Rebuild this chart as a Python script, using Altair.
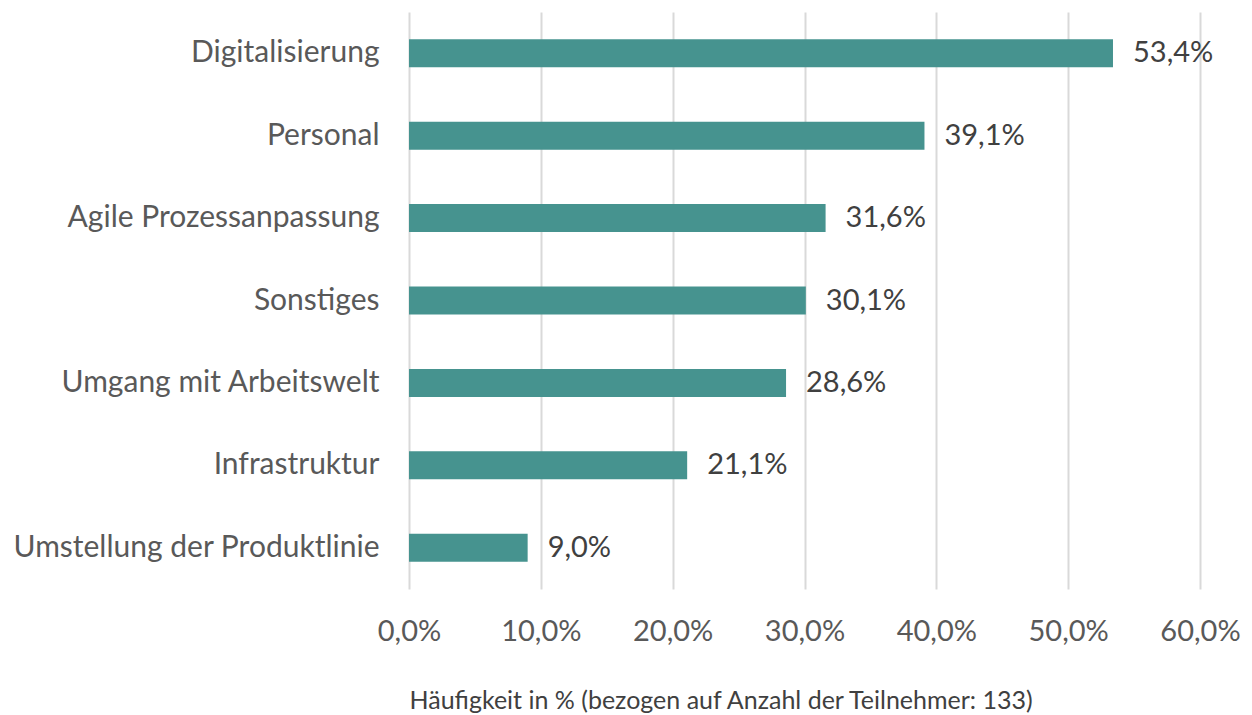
import altair as alt
import pandas as pd

categories = [
    "Digitalisierung",
    "Personal",
    "Agile Prozessanpassung",
    "Sonstiges",
    "Umgang mit Arbeitswelt",
    "Infrastruktur",
    "Umstellung der Produktlinie",
]
values = [53.4, 39.1, 31.6, 30.1, 28.6, 21.1, 9.0]
x_ticks = [0, 10, 20, 30, 40, 50, 60]

df = pd.DataFrame({"Kategorie": categories, "Wert": values})

FONT = "Lato"

base = alt.Chart(df).encode(
    y=alt.Y(
        "Kategorie:N",
        sort=categories,
        scale=alt.Scale(paddingInner=0.66, paddingOuter=0.33),
        axis=alt.Axis(
            title=None,
            domain=False,
            ticks=False,
            labelFont=FONT,
            labelFontSize=30,
            labelColor="#595959",
            labelPadding=30,
            labelLimit=500,
        ),
    ),
    x=alt.X(
        "Wert:Q",
        scale=alt.Scale(domain=[0, 60], nice=False),
        axis=alt.Axis(
            title="Häufigkeit in % (bezogen auf Anzahl der Teilnehmer: 133)",
            values=x_ticks,
            labelExpr="replace(format(datum.value, '.1f'), '.', ',') + '%'",
            domain=False,
            ticks=False,
            grid=True,
            gridColor="#d9d9d9",
            gridWidth=2,
            labelFlush=False,
            labelAlign="center",
            labelFont=FONT,
            labelFontSize=29,
            labelColor="#595959",
            labelPadding=28,
            titleFont=FONT,
            titleFontSize=25,
            titleFontWeight="normal",
            titleColor="#404040",
            titlePadding=42,
            titleAnchor="start",
            titleAlign="left",
        ),
    ),
)

bars = base.mark_bar(color="#46938F", strokeWidth=0)

labels = base.transform_calculate(
    lab="replace(format(datum.Wert, '.1f'), '.', ',') + '%'"
).mark_text(
    align="left",
    baseline="middle",
    dx=20,
    font=FONT,
    fontSize=29,
    color="#404040",
).encode(text="lab:N")

chart = (
    (bars + labels)
    .properties(
        width=791,
        height=577,
        autosize=alt.AutoSizeParams(type="none"),
        padding={"left": 401, "top": 4, "right": 44, "bottom": 126},
    )
    .configure(background="white")
    .configure_view(stroke=None)
)

chart.save("out.html", embed_options={"renderer": "svg", "actions": False})
